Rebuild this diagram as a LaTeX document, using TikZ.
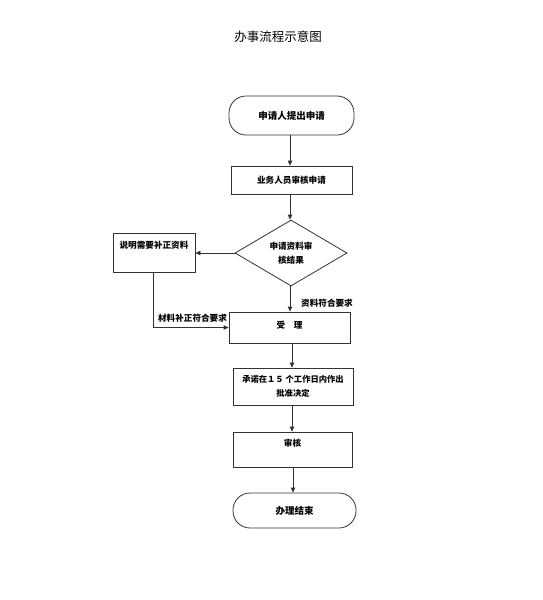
\documentclass[tikz,border=0pt]{standalone}
\usepackage{fontspec}
\newfontfamily\cjk{Noto Sans CJK SC}
\usetikzlibrary{arrows.meta,shapes.geometric}
\begin{document}
\begin{tikzpicture}[x=1pt,y=-1pt,
  every node/.style={font=\cjk\bfseries\fontsize{8.6}{14}\selectfont, text=black},
  ln/.style={draw=black!80, line width=0.8pt},
  arr/.style={ln, -{Triangle[width=4.5pt,length=5pt]}},
  boxs/.style={ln, rectangle, inner sep=0pt, align=center},
  term/.style={ln, rectangle, rounded corners=17pt, inner sep=0pt, align=center,
    font=\cjk\bfseries\fontsize{9.5}{14}\selectfont},
  lbl/.style={inner sep=0pt}
]
\useasboundingbox (0,0) rectangle (543,600);
\node[font=\cjk\fontsize{12.5}{14}\selectfont] (title) at (278,37) {办事流程示意图};

\node[term, minimum width=125pt, minimum height=39pt] (start) at (291.5,115.5) {申请人提出申请};
\node[boxs, minimum width=121pt, minimum height=28pt] (check) at (291.5,180) {业务人员审核申请};
\node[ln, diamond, inner sep=0pt, minimum width=112pt, minimum height=66pt, align=center] (dec) at (291,253) {申请资料审\\核结果};
\node[boxs, minimum width=82pt, minimum height=39pt, text height=15.5pt, text depth=23.5pt] (supp) at (154,252.5) {说明需要补正资料};
\node[boxs, minimum width=121pt, minimum height=31pt, text height=16pt, text depth=15pt] (acc) at (289.5,327.5) {受　理};
\node[boxs, minimum width=120pt, minimum height=37pt, font=\cjk\bfseries\fontsize{8.3}{14}\selectfont] (prom) at (293,386.5) {承诺在１５ 个工作日内作出\\批准决定};
\node[boxs, minimum width=119pt, minimum height=35pt, text height=14.5pt, text depth=20.5pt] (rev) at (292.5,449.5) {审核};
\node[term, minimum width=123pt, minimum height=35pt] (end) at (294.5,510.5) {办理结束};

\node[lbl] (l1) at (327,303) {资料符合要求};
\node[lbl] (l2) at (192.5,318) {材料补正符合要求};

\draw[arr] (start.south -| 290,0) -- (check.north -| 290,0);
\draw[arr] (check.south -| 290,0) -- (dec.north -| 290,0);
\draw[arr] (dec.west) -- (supp.east |- dec.west);
\draw[arr] (dec.south -| 290,0) -- (acc.north -| 290,0);
\draw[arr] (supp.south -| 153,0) |- (acc.west);
\draw[arr] (acc.south -| 292,0) -- (prom.north -| 292,0);
\draw[arr] (prom.south -| 292,0) -- (rev.north -| 292,0);
\draw[arr] (rev.south -| 293,0) -- (end.north -| 293,0);
\end{tikzpicture}
\end{document}
